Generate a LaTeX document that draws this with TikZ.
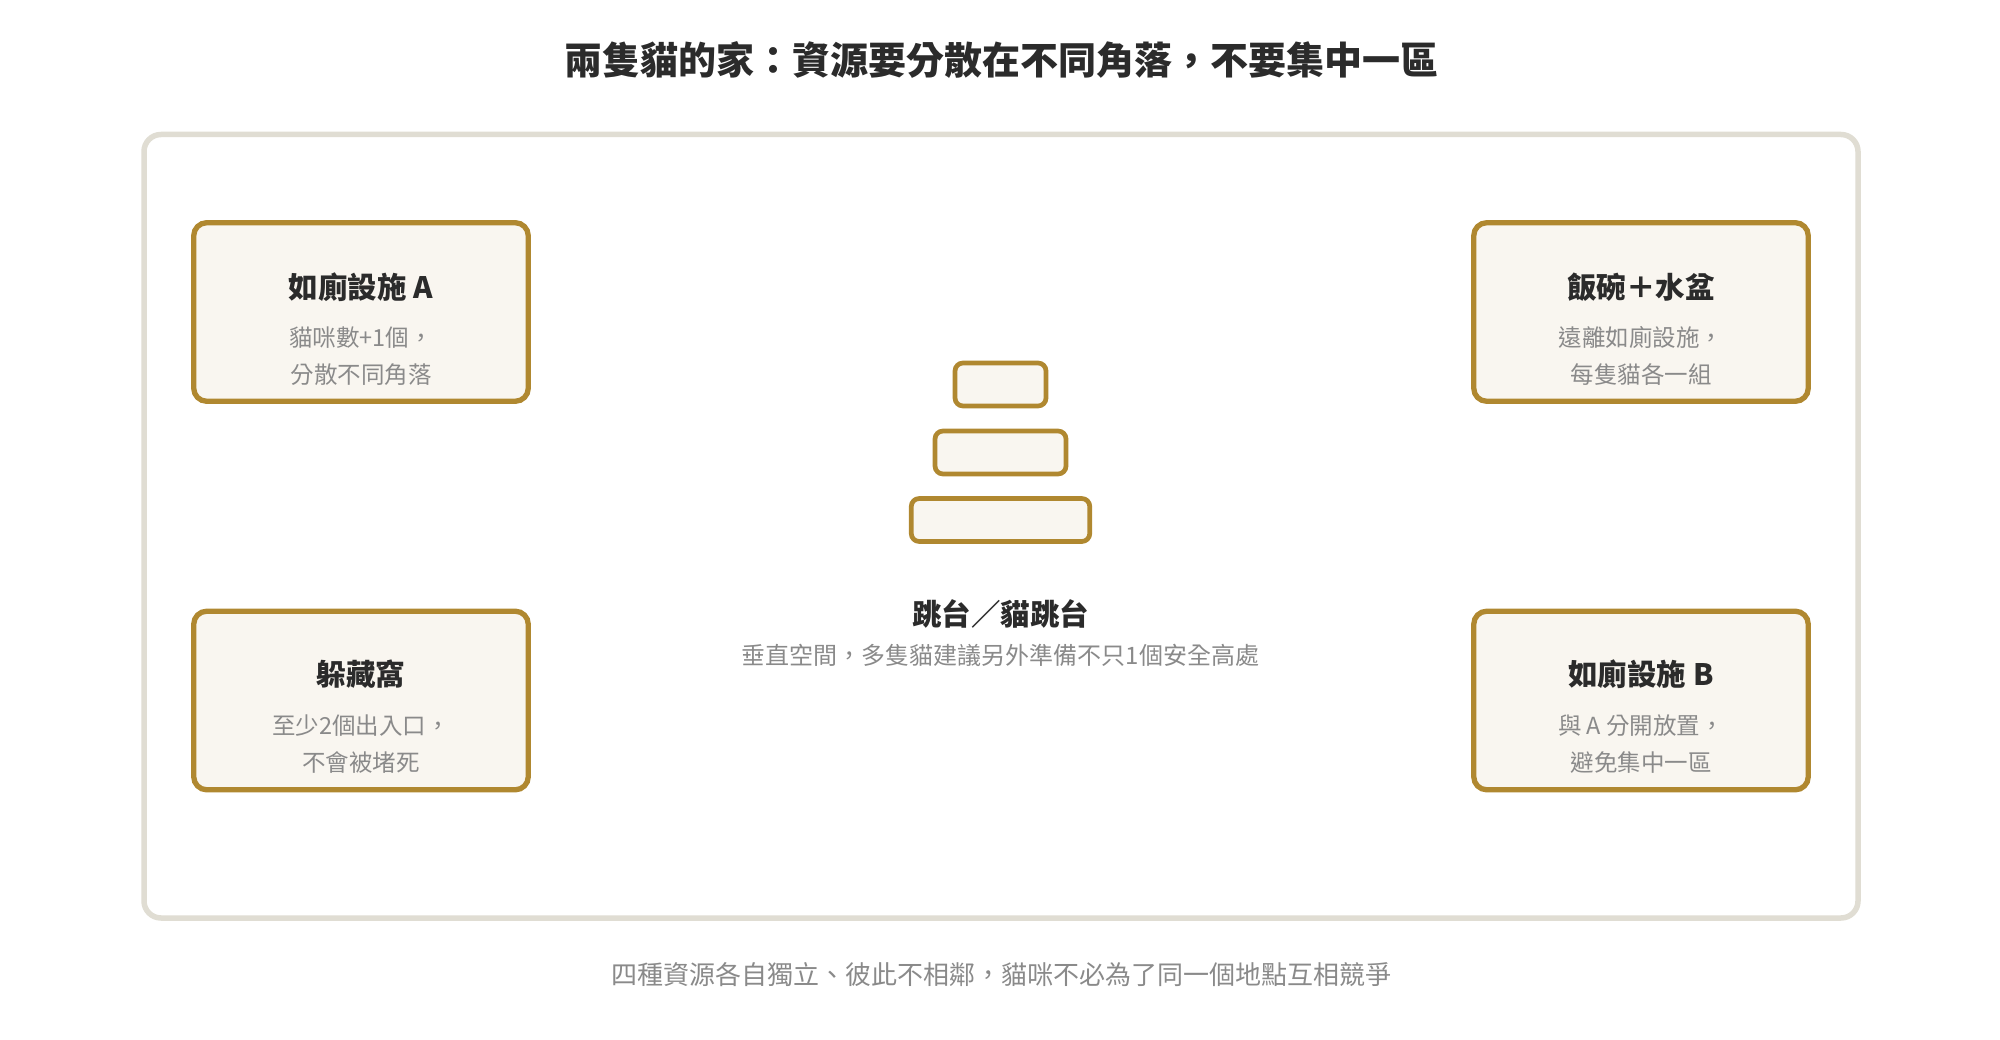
\documentclass[tikz,border=0pt]{standalone}
\usepackage{fontspec}
\setmainfont{Noto Sans CJK TC}
\usepackage{tikz}
\usetikzlibrary{calc,shapes,positioning}
\definecolor{gold}{RGB}{176,136,48}
\definecolor{cream}{RGB}{249,246,240}
\definecolor{frame}{RGB}{224,221,211}
\definecolor{ink}{RGB}{43,43,43}
\definecolor{mute}{RGB}{138,138,138}

\begin{document}
\begin{tikzpicture}[x=1pt,y=-1pt]
      \tikzstyle{bnode} = [line width=5.3pt, draw=gold, fill=cream, rectangle, rounded corners = 13pt, minimum width=334.5pt, minimum height=178.6pt, inner sep = 0pt]
      \tikzstyle{pnode} = [line width=4.7pt, draw=gold, fill=cream, rectangle, rounded corners = 8pt, minimum height=43pt, inner sep = 0pt]
      \tikzstyle{tnode} = [text=ink, font=\fontsize{29.5}{34}\selectfont\bfseries, inner sep = 0pt]
      \tikzstyle{snode} = [text=mute, font=\fontsize{23.5}{37}\selectfont, align=center, inner sep = 0pt]

      \useasboundingbox[fill=white] (0,0) rectangle (2000,1040);

      % heading and outer frame
      \node[text=ink, font=\fontsize{38}{44}\selectfont\bfseries, inner sep=0pt] (head) at (1001.5,59.5) {兩隻貓的家：資源要分散在不同角落，不要集中一區};
      \draw[line width=5.5pt, draw=frame, rounded corners=17pt] (144,134.5) rectangle (1858,918);

      % four resource boxes
      \node[bnode] (b01) at (361,312) {};
      \node[bnode] (b02) at (1641,312) {};
      \node[bnode] (b03) at (361,700.5) {};
      \node[bnode] (b04) at (1641,700.5) {};

      \node[tnode] (t01) at ($(b01.center)+(0,-25)$) {如廁設施 A};
      \node[snode] (s01) at ($(b01.center)+(0,44)$) {貓咪數+1個，\\分散不同角落};
      \node[tnode] (t02) at ($(b02.center)+(0,-25)$) {飯碗＋水盆};
      \node[snode] (s02) at ($(b02.center)+(0,44)$) {遠離如廁設施，\\每隻貓各一組};
      \node[tnode] (t03) at ($(b03.center)+(0,-26)$) {躲藏窩};
      \node[snode] (s03) at ($(b03.center)+(0,44)$) {至少2個出入口，\\不會被堵死};
      \node[tnode] (t04) at ($(b04.center)+(0,-26)$) {如廁設施 B};
      \node[snode] (s04) at ($(b04.center)+(0,44)$) {與 A 分開放置，\\避免集中一區};

      % cat tree in the middle
      \node[pnode, minimum width=91pt] (p01) at (1000.5,384.5) {};
      \node[pnode, minimum width=131pt] (p02) at (1000.5,452.5) {};
      \node[pnode, minimum width=178.5pt] (p03) at (1000.5,520) {};
      \node[tnode] (t05) at (1000.5,613.5) {跳台／貓跳台};
      \node[snode, font=\fontsize{24}{30}\selectfont] (s05) at (1000.5,655) {垂直空間，多隻貓建議另外準備不只1個安全高處};

      % footnote
      \node[snode, font=\fontsize{26}{30}\selectfont] (foot) at (1001,975) {四種資源各自獨立、彼此不相鄰，貓咪不必為了同一個地點互相競爭};
\end{tikzpicture}
\end{document}
